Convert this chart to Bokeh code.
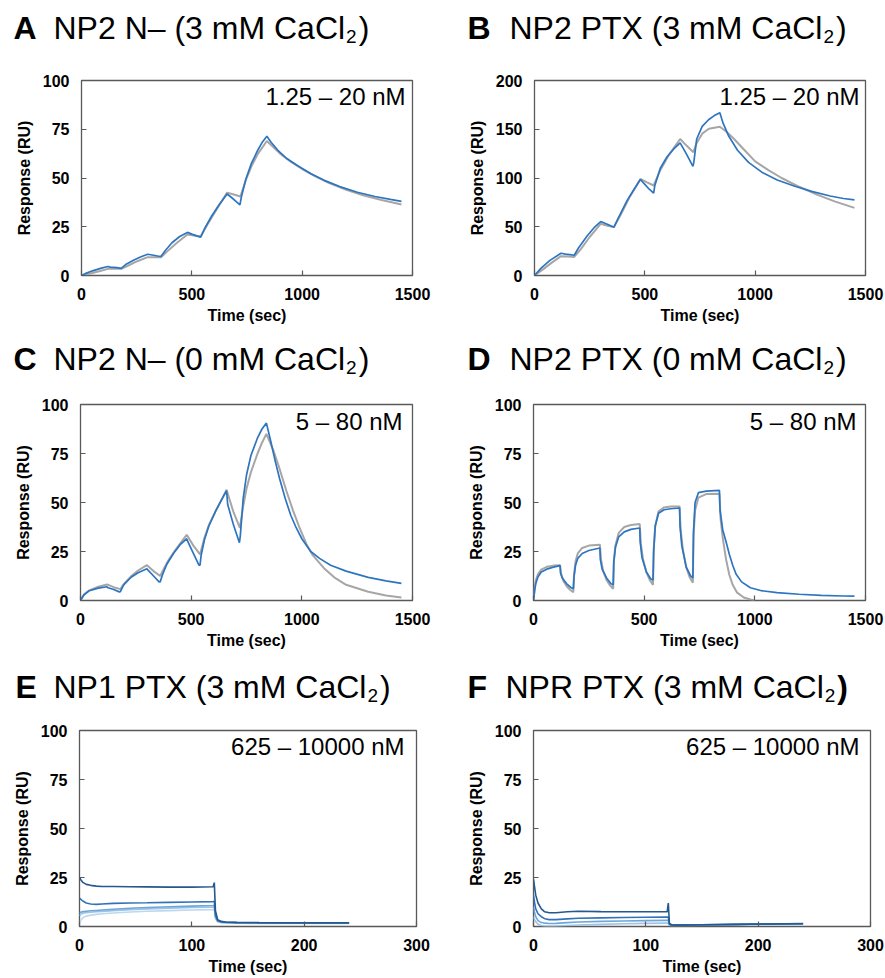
from bokeh.plotting import figure
from bokeh.models import Label, Range1d, FixedTicker
from bokeh.layouts import column, row
from bokeh.embed import file_html
from bokeh.resources import INLINE

# ---------------- data ----------------
# Panel A: NP2 N- (3 mM CaCl2)
A_blue_t = [0, 20, 50, 90, 120, 130, 160, 180, 200, 240, 270, 300, 320, 345, 360, 380, 410, 445, 480, 500,
            525, 540, 560, 590, 625, 660, 680, 700, 718, 725, 745, 770, 800, 820, 840, 860, 890, 930, 980, 1040,
            1100, 1170, 1250, 1330, 1400, 1450]
A_blue_v = [0, 1.1, 2.4, 3.8, 4.6, 4.3, 4.0, 3.7, 5.6, 8.1, 9.6, 10.9, 10.5, 10.0, 9.8, 12.8, 16.8, 20.0, 22.1, 21.2,
            20.2, 19.7, 24.5, 30.5, 36.5, 41.8, 40.0, 38.0, 36.2, 40.5, 49.5, 57.5, 64.5, 68.5, 71.4, 68.2, 64.2, 60.0, 56.3, 52.2,
            48.8, 45.6, 42.7, 40.5, 39.0, 38.0]
A_fit_t = [0, 40, 80, 120, 150, 180, 210, 250, 300, 330, 360, 390, 430, 480, 510, 540, 570, 610, 660, 690,
           720, 745, 770, 800, 840, 870, 900, 950, 1000, 1060, 1120, 1200, 1280, 1360, 1450]
A_fit_v = [0, 1.0, 2.2, 3.4, 3.4, 3.4, 5.0, 7.2, 9.4, 9.4, 9.3, 12.5, 16.5, 21.0, 20.5, 20.0, 26.0, 33.5, 42.5, 41.5,
           40.5, 49.0, 56.0, 62.5, 69.0, 65.8, 62.5, 58.2, 54.6, 50.8, 47.5, 44.0, 41.0, 38.7, 36.4]

# Panel B: NP2 PTX (3 mM CaCl2)
B_blue_t = [0, 30, 70, 120, 140, 160, 180, 200, 240, 270, 300, 330, 360, 380, 420, 450, 480, 500, 520, 540,
            545, 570, 600, 630, 660, 690, 718, 722, 735, 760, 790, 815, 840, 855, 880, 920, 970, 1030, 1100, 1180,
            1260, 1340, 1400, 1450]
B_blue_v = [0, 7.5, 15.5, 22.8, 22.0, 21.5, 20.8, 28.5, 41.0, 49.0, 55.3, 52.5, 49.5, 59.0, 77.0, 88.0, 98.5, 93.5, 88.5, 84.5,
            92.0, 110.0, 121.5, 129.5, 136.0, 124.0, 112.0, 116.0, 140.0, 153.0, 160.0, 164.0, 167.0, 156.0, 143.0, 128.5, 116.0, 106.0, 98.0, 91.5,
            86.0, 81.5, 79.0, 77.5]
B_fit_t = [0, 40, 80, 120, 150, 180, 210, 250, 300, 330, 360, 390, 430, 480, 510, 540, 570, 610, 660, 690,
           720, 735, 760, 790, 840, 870, 900, 950, 1000, 1060, 1120, 1200, 1280, 1360, 1450]
B_fit_v = [0, 6.5, 13.5, 19.8, 19.5, 19.0, 27.0, 39.5, 53.0, 51.0, 49.6, 62.0, 80.0, 99.0, 95.5, 92.3, 108.0, 124.0, 140.0, 133.0,
           126.5, 136.0, 145.5, 150.5, 152.5, 147.5, 141.0, 129.0, 117.0, 108.0, 100.0, 91.0, 83.0, 76.0, 69.4]

# Panel C: NP2 N- (0 mM CaCl2)
C_blue_t = [0, 15, 40, 80, 120, 125, 150, 175, 180, 195, 230, 260, 300, 305, 330, 355, 360, 370, 390, 420,
            450, 480, 485, 510, 535, 540, 545, 560, 580, 610, 640, 660, 665, 690, 718, 722, 735, 750, 770, 800,
            820, 840, 860, 880, 900, 925, 950, 975, 1000, 1040, 1080, 1130, 1200, 1300, 1380, 1450]
C_blue_v = [0, 2.8, 5.0, 6.3, 7.0, 6.5, 5.6, 4.4, 4.5, 8.0, 12.0, 14.2, 16.2, 15.5, 12.5, 9.5, 9.5, 13.0, 18.5, 24.0,
            28.5, 31.5, 30.0, 24.0, 18.0, 18.0, 23.0, 31.0, 38.0, 45.5, 52.0, 56.0, 49.0, 39.0, 29.5, 33.0, 52.0, 64.0, 74.0, 83.0,
            87.5, 90.5, 81.0, 71.0, 62.0, 52.0, 43.5, 37.0, 31.5, 25.0, 21.5, 18.0, 15.0, 11.8, 10.0, 8.7]
C_fit_t = [0, 15, 40, 80, 120, 150, 180, 200, 230, 260, 300, 330, 360, 380, 400, 430, 460, 480, 510, 540,
           560, 580, 610, 640, 660, 690, 720, 735, 750, 770, 800, 820, 840, 870, 900, 930, 960, 990, 1020, 1050,
           1100, 1150, 1200, 1300, 1380, 1450]
C_fit_v = [0, 3.0, 5.2, 7.0, 8.2, 6.8, 5.8, 9.0, 12.5, 15.3, 18.0, 15.0, 12.5, 17.0, 21.0, 26.0, 30.5, 33.5, 28.0, 23.5,
           32.0, 38.5, 45.5, 52.0, 56.5, 45.5, 37.0, 48.0, 57.0, 65.5, 75.0, 80.5, 85.0, 77.0, 67.0, 56.0, 46.0, 37.0, 29.0, 23.0,
           16.5, 11.5, 8.0, 4.5, 2.5, 1.5]

# Panel D: NP2 PTX (0 mM CaCl2)
D_blue_t = [0, 5, 10, 20, 35, 60, 90, 120, 122, 130, 150, 170, 180, 183, 190, 200, 220, 250, 300, 302,
            310, 330, 350, 360, 363, 370, 385, 410, 440, 480, 482, 490, 510, 530, 540, 543, 550, 565, 590, 620,
            660, 662, 670, 690, 710, 720, 723, 730, 745, 780, 840, 843, 855, 870, 885, 900, 915, 940, 980, 1030,
            1100, 1200, 1300, 1400, 1450]
D_blue_v = [0, 5.0, 8.5, 12.0, 14.5, 16.0, 17.0, 17.8, 14.0, 11.5, 8.5, 6.5, 6.0, 12.0, 18.0, 21.5, 24.0, 25.5, 26.8, 21.0,
            16.0, 11.5, 8.5, 8.0, 20.0, 27.0, 32.5, 35.0, 36.3, 37.0, 30.0, 22.0, 14.5, 11.0, 10.5, 25.0, 38.0, 44.5, 46.3, 46.8,
            47.2, 38.0, 28.0, 17.0, 12.5, 11.5, 35.0, 50.0, 55.0, 55.8, 56.2, 46.0, 36.0, 30.0, 23.5, 18.0, 13.5, 9.5, 6.5, 5.0,
            4.0, 3.2, 2.6, 2.3, 2.2]
D_fit_t = [0, 5, 10, 20, 35, 60, 90, 120, 125, 135, 150, 165, 180, 183, 190, 200, 220, 250, 300, 305,
           315, 330, 345, 360, 363, 370, 385, 410, 440, 480, 485, 495, 510, 525, 540, 543, 550, 565, 590, 620,
           660, 665, 675, 690, 705, 720, 723, 730, 745, 780, 840, 845, 855, 870, 885, 900, 920, 950, 980, 1000]
D_fit_v = [0, 6.0, 10.0, 13.5, 15.8, 17.2, 17.8, 18.0, 13.5, 10.0, 7.3, 5.5, 4.2, 13.0, 20.0, 24.0, 26.8, 28.0, 28.5, 21.0,
           15.0, 10.5, 7.8, 6.0, 20.0, 28.0, 34.5, 37.5, 38.5, 39.0, 29.0, 21.0, 14.5, 10.5, 8.0, 26.0, 38.0, 45.5, 47.5, 48.0,
           48.0, 36.0, 26.0, 17.0, 12.0, 9.0, 33.0, 46.0, 52.5, 54.3, 54.5, 42.0, 32.0, 21.0, 13.0, 8.0, 4.0, 1.5, 0.5, 0.0]

# Panel E: NP1 PTX (3 mM CaCl2), 625 - 10000 nM
E_t = [0, 1, 3, 6, 10, 15, 20, 30, 45, 60, 80, 100, 119, 120, 121, 123, 126, 130, 140, 160, 190, 220, 240]
E_625 = [1.5, 3.0, 4.5, 5.3, 5.8, 6.2, 6.5, 6.9, 7.4, 7.8, 8.1, 8.4, 8.6, 8.7, 4.0, 2.4, 2.0, 1.9, 1.7, 1.6, 1.6, 1.6, 1.6]
E_1250 = [5.5, 6.2, 6.8, 7.1, 7.3, 7.5, 7.7, 8.1, 8.6, 9.0, 9.4, 9.7, 9.9, 10.0, 4.5, 2.6, 2.1, 2.0, 1.8, 1.7, 1.7, 1.7, 1.7]
E_2500 = [7.0, 7.3, 7.6, 7.8, 8.0, 8.2, 8.4, 8.8, 9.3, 9.7, 10.1, 10.4, 10.7, 10.8, 5.0, 2.8, 2.2, 2.1, 1.9, 1.8, 1.7, 1.7, 1.7]
E_5000 = [14.5, 14.0, 13.0, 12.0, 11.5, 11.3, 11.5, 11.8, 12.0, 12.1, 12.3, 12.5, 12.7, 12.9, 6.0, 3.0, 2.4, 2.2, 2.0, 1.9, 1.8, 1.8, 1.8]
E_10000 = [25.0, 24.0, 22.5, 21.5, 21.0, 20.6, 20.4, 20.4, 20.3, 20.2, 20.1, 20.1, 20.3, 22.4, 8.0, 3.5, 2.6, 2.3, 2.1, 2.0, 1.9, 1.9, 1.9]

# Panel F: NPR PTX (3 mM CaCl2), 625 - 10000 nM
F_t = [0, 1, 2, 4, 7, 10, 14, 20, 30, 40, 60, 80, 100, 119, 120, 121, 123, 126, 130, 150, 180, 210, 240]
F_1250 = [5.0, 3.5, 2.5, 1.2, 0.5, 0.2, 0.1, 0.2, 0.5, 0.8, 1.1, 1.4, 1.6, 1.7, 1.7, 0.6, 0.5, 0.5, 0.5, 0.7, 0.9, 1.1, 1.2]
F_2500 = [10.0, 7.0, 5.0, 3.0, 2.0, 1.7, 1.5, 1.6, 2.0, 2.3, 2.6, 2.8, 3.0, 3.1, 3.1, 0.9, 0.7, 0.6, 0.6, 0.8, 1.0, 1.2, 1.3]
F_5000 = [16.0, 12.0, 9.0, 6.5, 5.0, 4.0, 3.5, 3.5, 3.9, 4.2, 4.4, 4.6, 4.7, 4.8, 4.8, 1.2, 0.8, 0.7, 0.7, 0.9, 1.1, 1.3, 1.4]
F_10000 = [24.0, 20.0, 16.0, 12.0, 9.0, 7.5, 7.0, 7.0, 7.5, 7.8, 7.6, 7.5, 7.5, 7.5, 12.0, 1.5, 0.9, 0.8, 0.8, 0.9, 1.1, 1.3, 1.5]

# Axis ticks
X_TICKS_LONG = [0, 500, 1000, 1500]
X_TICKS_SHORT = [0, 100, 200, 300]
Y_TICKS_100 = [0, 25, 50, 75, 100]
Y_TICKS_200 = [0, 50, 100, 150, 200]

# ---------------- styling ----------------
FONT = "Liberation Sans"
BLUE = "#2E75C0"
GRAY = "#A6A6A6"
FRAME = "#595959"
MULTI_BLUES = ["#BDD7EE", "#9DC3E6", "#6FA6D9", "#3372B8", "#24588F"]

ARIAL_W = {' ': 278, '(': 333, ')': 333, '–': 556, 'A': 667, 'C': 722, 'M': 833, 'N': 722,
           'P': 667, 'R': 722, 'T': 611, 'X': 667, 'a': 556, 'l': 222, 'm': 833}
for d in "0123456789":
    ARIAL_W[d] = 556


def text_w(s, size):
    return sum(ARIAL_W.get(c, 556) for c in s) / 1000.0 * size


TITLE_SIZE = 32
SUB_SIZE = 19
TITLE_DY = -14   # empirical correction of the label baseline placement
INSET_DY = -7


def make_title(fig_box, letter, main, letter_x, main_x, base_y, bold_paren=False):
    fx, fy, fw, fh = fig_box
    t = figure(width=fw, height=fh, x_range=Range1d(0, fw), y_range=Range1d(0, fh), title=None,
               min_border_left=0, min_border_right=0, min_border_top=0, min_border_bottom=0,
               output_backend="svg", toolbar_location=None, tools="")
    t.axis.visible = False
    t.grid.visible = False
    t.outline_line_color = None
    t.background_fill_color = "white"
    t.border_fill_color = "white"
    base_y = base_y + TITLE_DY

    def lab(x, y, text, size, style="normal"):
        t.add_layout(Label(x=x - fx, y=fy + fh - y, text=text,
                           text_font=FONT, text_font_size=f"{size}px", text_font_style=style,
                           text_color="black", text_align="left", text_baseline="alphabetic"))

    lab(letter_x, base_y, letter, TITLE_SIZE, "bold")
    lab(main_x, base_y, main, TITLE_SIZE)
    sub_x = main_x + text_w(main, TITLE_SIZE) + 1
    lab(sub_x, base_y + 8.5, "2", SUB_SIZE)
    lab(sub_x + text_w("2", SUB_SIZE) + 2, base_y, ")", TITLE_SIZE, "bold" if bold_paren else "normal")
    return t


def make_panel(fig_box, frame_box, xmax, xticks, ymax, yticks, inset, inset_x, inset_y):
    fx, fy, fw, fh = fig_box
    L, R, T, B = frame_box
    p = figure(width=fw, height=fh, x_range=Range1d(0, xmax), y_range=Range1d(0, ymax), title=None,
               min_border_left=L - fx, min_border_right=fx + fw - R,
               min_border_top=T - fy, min_border_bottom=fy + fh - B,
               output_backend="svg", toolbar_location=None, tools="")
    p.xgrid.visible = False
    p.ygrid.visible = False
    p.outline_line_color = FRAME
    p.outline_line_width = 1.3
    p.background_fill_color = "white"
    p.border_fill_color = "white"
    for ax, ticks, lab in ((p.xaxis, xticks, "Time (sec)"), (p.yaxis, yticks, "Response (RU)")):
        ax.ticker = FixedTicker(ticks=ticks)
        ax.axis_line_color = None
        ax.major_tick_in = 5
        ax.major_tick_out = 0
        ax.major_tick_line_color = FRAME
        ax.major_tick_line_width = 1.2
        ax.minor_tick_line_color = None
        ax.major_label_text_font = FONT
        ax.major_label_text_font_style = "bold"
        ax.major_label_text_font_size = "16px"
        ax.major_label_text_color = "black"
        ax.axis_label = lab
        ax.axis_label_text_font = FONT
        ax.axis_label_text_font_style = "bold"
        ax.axis_label_text_font_size = "16px"
        ax.axis_label_text_color = "black"
    p.xaxis.major_label_standoff = 12
    p.xaxis.axis_label_standoff = 4
    p.yaxis.major_label_standoff = 12
    p.yaxis.axis_label_standoff = 7

    p.add_layout(Label(x=inset_x - L, y=B - (inset_y + INSET_DY), x_units="screen", y_units="screen",
                       text=inset, text_font=FONT, text_font_size="24px", text_color="black",
                       text_align="right", text_baseline="alphabetic"))
    return p


def pair_panel(p, bt, bv, ft, fv):
    p.line(ft, fv, line_color=GRAY, line_width=2.0)
    p.line(bt, bv, line_color=BLUE, line_width=1.7)


tA = make_title((0, 0, 442, 62), "A", "NP2 N– (3 mM CaCl", 13, 53, 41)
tB = make_title((442, 0, 443, 62), "B", "NP2 PTX (3 mM CaCl", 467, 509, 41)
pA = make_panel((0, 62, 442, 267), (81, 412, 80, 275), 1500, X_TICKS_LONG, 100, Y_TICKS_100,
                "1.25 – 20 nM", 405, 103)
pair_panel(pA, A_blue_t, A_blue_v, A_fit_t, A_fit_v)
pB = make_panel((442, 62, 443, 267), (534, 865, 80, 275), 1500, X_TICKS_LONG, 200, Y_TICKS_200,
                "1.25 – 20 nM", 859, 103)
pair_panel(pB, B_blue_t, B_blue_v, B_fit_t, B_fit_v)

tC = make_title((0, 329, 442, 63), "C", "NP2 N– (0 mM CaCl", 13, 53, 372)
tD = make_title((442, 329, 443, 63), "D", "NP2 PTX (0 mM CaCl", 467, 509, 372)
pC = make_panel((0, 392, 442, 261), (80, 412, 404, 600), 1500, X_TICKS_LONG, 100, Y_TICKS_100,
                "5 – 80 nM", 402, 428)
pair_panel(pC, C_blue_t, C_blue_v, C_fit_t, C_fit_v)
pD = make_panel((442, 392, 443, 261), (533, 865, 404, 600), 1500, X_TICKS_LONG, 100, Y_TICKS_100,
                "5 – 80 nM", 856, 428)
pair_panel(pD, D_blue_t, D_blue_v, D_fit_t, D_fit_v)

tE = make_title((0, 653, 442, 63), "E", "NP1 PTX (3 mM CaCl", 15, 53, 700)
tF = make_title((442, 653, 443, 63), "F", "NPR PTX (3 mM CaCl", 467, 505, 700, bold_paren=True)
pE = make_panel((0, 716, 442, 262), (79, 416, 730, 926), 300, X_TICKS_SHORT, 100, Y_TICKS_100,
                "625 – 10000 nM", 404, 753)
for vals, col in zip([E_625, E_1250, E_2500, E_5000, E_10000], MULTI_BLUES):
    pE.line(E_t, vals, line_color=col, line_width=1.6)
pF = make_panel((442, 716, 443, 262), (533, 870, 730, 926), 300, X_TICKS_SHORT, 100, Y_TICKS_100,
                "625 – 10000 nM", 859, 753)
for vals, col in zip([F_1250, F_2500, F_5000, F_10000], MULTI_BLUES[1:]):
    pF.line(F_t, vals, line_color=col, line_width=1.6)

layout = column(row(tA, tB), row(pA, pB), row(tC, tD), row(pC, pD), row(tE, tF), row(pE, pF))

with open("out.html", "w") as f:
    f.write(file_html(layout, INLINE))
